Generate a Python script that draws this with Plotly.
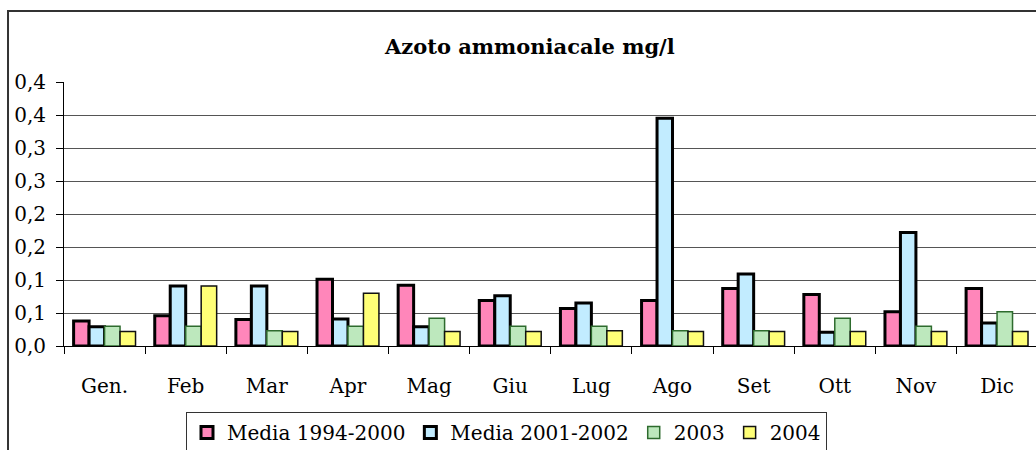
import plotly.graph_objects as go

months = ["Gen.", "Feb", "Mar", "Apr", "Mag", "Giu", "Lug", "Ago", "Set", "Ott", "Nov", "Dic"]
series_names = ["Media 1994-2000", "Media 2001-2002", "2003", "2004"]
media_1994_2000 = [0.038, 0.046, 0.040, 0.101, 0.092, 0.069, 0.057, 0.069, 0.087, 0.078, 0.052, 0.087]
media_2001_2002 = [0.029, 0.091, 0.091, 0.041, 0.029, 0.076, 0.065, 0.345, 0.109, 0.021, 0.172, 0.035]
y2003 = [0.030, 0.030, 0.023, 0.030, 0.042, 0.030, 0.030, 0.023, 0.023, 0.042, 0.030, 0.052]
y2004 = [0.022, 0.091, 0.022, 0.080, 0.022, 0.022, 0.023, 0.022, 0.022, 0.022, 0.022, 0.022]
ytick_vals = [0, 0.05, 0.1, 0.15, 0.2, 0.25, 0.3, 0.35, 0.4]
ytick_text = ["0,0", "0,1", "0,1", "0,2", "0,2", "0,3", "0,3", "0,4", "0,4"]
title_text = "Azoto ammoniacale mg/l"

values = [media_1994_2000, media_2001_2002, y2003, y2004]
fills = ["#FF86BA", "#C2ECFF", "#BDE8BD", "#FFFF77"]
lines = ["#000000", "#000000", "#2E6B2E", "#111111"]
widths = [3, 3, 1.5, 1.5]

FONT = "DejaVu Serif"
fig = go.Figure()
for name, vals, fc, lc, lw in zip(series_names, values, fills, lines, widths):
    fig.add_trace(go.Bar(x=months, y=vals, name=name,
                         marker=dict(color=fc, line=dict(color=lc, width=lw))))

fig.update_layout(
    template="none",
    width=1036, height=450,
    margin=dict(l=64, r=0, t=82, b=104, pad=0),
    paper_bgcolor="white", plot_bgcolor="white",
    barmode="group", bargap=0.237, bargroupgap=0,
    font=dict(family=FONT, size=20, color="black"),
    showlegend=True,
    legend=dict(orientation="h", xref="container", yref="container",
                x=186 / 1036, xanchor="left", y=(450 - 412) / 450, yanchor="top",
                bordercolor="#333333", borderwidth=1, bgcolor="white",
                font=dict(family=FONT, size=20), itemwidth=30, tracegroupgap=0),
    annotations=[dict(text="<b>" + title_text + "</b>", xref="paper", yref="paper",
                      x=0.479, y=1.136, xanchor="center", yanchor="middle",
                      showarrow=False, font=dict(family=FONT, size=21, color="black"))],
    shapes=[dict(type="rect", xref="paper", yref="paper", x0=-0.0576, x1=1.05, y0=-0.6, y1=1.269,
                 line=dict(color="#333333", width=2), layer="below")],
)
fig.update_xaxes(range=[-0.5, 11.48], automargin=False, showline=True, linecolor="black", linewidth=1,
                 ticks="outside", ticklen=7, tickcolor="black", tickson="boundaries",
                 showgrid=False, zeroline=False, ticklabelstandoff=22, fixedrange=True)
fig.update_yaxes(range=[0, 0.4], automargin=False, tickvals=ytick_vals, ticktext=ytick_text,
                 showline=True, linecolor="black", linewidth=1,
                 ticks="outside", ticklen=7, tickcolor="black", ticklabelstandoff=6,
                 showgrid=True, gridcolor="#555555", gridwidth=1, zeroline=False,
                 fixedrange=True)

fig.write_html("out.html", config={"displayModeBar": False},
               post_script="document.body.style.margin='0';document.body.style.overflow='hidden';")
